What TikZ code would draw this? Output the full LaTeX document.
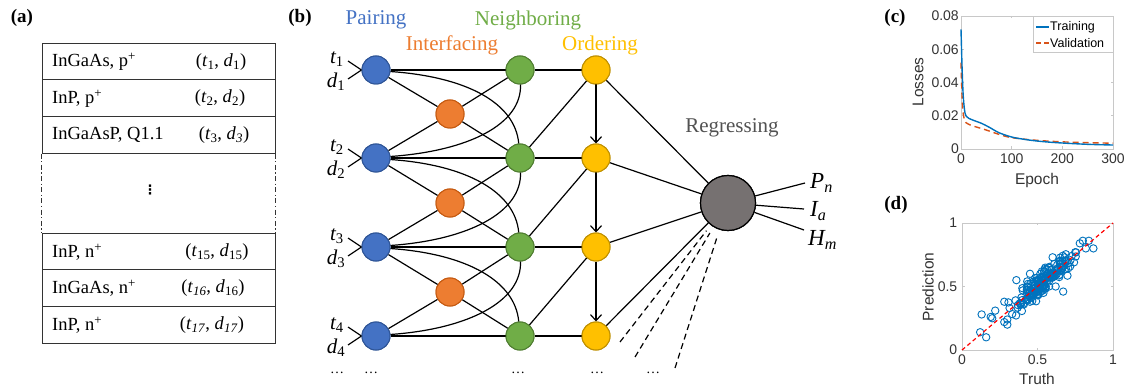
\documentclass[tikz,border=0pt]{standalone}
\usepackage{fontspec}
\setmainfont{Liberation Serif}
\newfontfamily\hv{Liberation Sans}
\newfontfamily\dv{DejaVu Sans}
\usetikzlibrary{arrows.meta}
\definecolor{cblue}{HTML}{4472C4}
\definecolor{cblueD}{HTML}{2F5597}
\definecolor{corange}{HTML}{ED7D31}
\definecolor{corangeD}{HTML}{C55A11}
\definecolor{cgreen}{HTML}{70AD47}
\definecolor{cgreenD}{HTML}{507E32}
\definecolor{cyellow}{HTML}{FFC000}
\definecolor{cyellowD}{HTML}{BF9000}
\definecolor{cgray}{HTML}{767171}
\definecolor{mblue}{HTML}{0072BD}
\definecolor{morange}{HTML}{D95319}
\definecolor{axgray}{HTML}{C8C8C8}
\definecolor{tkgray}{HTML}{333333}
\newcommand{\iv}[2]{\textit{#1}\textsubscript{#2}}
\begin{document}
\begin{tikzpicture}[x=1pt,y=-1pt,
  panlab/.style={font=\bfseries\fontsize{19}{22}\selectfont},
  rowbox/.style={draw=black!80, line width=0.9pt, minimum width=233pt, minimum height=36.7pt, inner sep=0pt},
  tabtxt/.style={font=\fontsize{18.5}{22}\selectfont, inner sep=0pt},
  pnode/.style={circle, minimum size=28pt, inner sep=0pt, line width=1pt},
  bnode/.style={pnode, fill=cblue, draw=cblueD},
  onode/.style={pnode, fill=corange, draw=corangeD},
  gnode/.style={pnode, fill=cgreen, draw=cgreenD},
  ynode/.style={pnode, fill=cyellow, draw=cyellowD},
  grnode/.style={circle, minimum size=55pt, inner sep=0pt, fill=cgray, draw=black, line width=1.2pt},
  edge/.style={line width=1.2pt, black},
  btxt/.style={font=\fontsize{21}{24}\selectfont, inner sep=0pt},
  ivtxt/.style={font=\itshape\fontsize{21}{24}\selectfont, inner sep=0pt},
  outtxt/.style={font=\itshape\fontsize{23}{26}\selectfont, inner sep=0pt, anchor=west},
  dotsl/.style={font=\fontsize{14}{16}\selectfont, inner sep=0pt},
  tick/.style={font=\hv\fontsize{14}{16}\selectfont, text=tkgray, inner sep=0pt},
  axlab/.style={font=\hv\fontsize{15.5}{18}\selectfont, text=tkgray, inner sep=0pt},
  axbox/.style={draw=axgray, line width=0.8pt},
  mdot/.style={mblue, line width=0.9pt},
]
\useasboundingbox[fill=white] (0,0) rectangle (1126,387);

% ---------------- (a) ----------------
\node[panlab] (la) at (22,18) {(a)};
\node[rowbox] (r1) at (158.5,61.5) {};
\node[rowbox] (r2) at (158.5,98.2) {};
\node[rowbox] (r3) at (158.5,134.9) {};
\node[rowbox] (r15) at (158.5,251.5) {};
\node[rowbox] (r16) at (158.5,288.2) {};
\node[rowbox] (r17) at (158.5,324.9) {};
\draw[draw=black!80, line width=1.2pt, dash pattern=on 5pt off 2.5pt on 1.2pt off 2.5pt] (r3.south west) -- (r15.north west);
\draw[draw=black!80, line width=1.2pt, dash pattern=on 5pt off 2.5pt on 1.2pt off 2.5pt] (r3.south east) -- (r15.north east);
\node[tabtxt, anchor=west] (t1) at (52,62) {InGaAs, p\textsuperscript{+}};
\node[tabtxt] (v1) at (221,62) {(\iv{t}{1}, \iv{d}{1})};
\node[tabtxt, anchor=west] (t2) at (52,98.5) {InP, p\textsuperscript{+}};
\node[tabtxt] (v2) at (220,98.5) {(\iv{t}{2}, \iv{d}{2})};
\node[tabtxt, anchor=west] (t3) at (52,135) {InGaAsP, Q1.1};
\node[tabtxt] (v3) at (224,135) {(\iv{t}{3}, \iv{d}{\textit{3}})};
\node[font=\dv\bfseries\fontsize{13}{15}\selectfont, inner sep=0pt] (vd) at (150,190) {⋮};
\node[tabtxt, anchor=west] (t15) at (52,252) {InP, n\textsuperscript{+}};
\node[tabtxt] (v15) at (217,252) {(\iv{t}{15}, \iv{d}{15})};
\node[tabtxt, anchor=west] (t16) at (52,288.5) {InGaAs, n\textsuperscript{+}};
\node[tabtxt] (v16) at (213,288.5) {(\iv{t}{\textit{16}}, \iv{d}{16})};
\node[tabtxt, anchor=west] (t17) at (52,325) {InP, n\textsuperscript{+}};
\node[tabtxt] (v17) at (212,325) {(\iv{t}{\textit{17}}, \iv{d}{\textit{17}})};

% ---------------- (b) ----------------
\node[panlab] (lb) at (300,18) {(b)};
\node[btxt, text=cblue] (hp) at (376,20) {Pairing};
\node[btxt, text=corange] (hi) at (452,45) {Interfacing};
\node[btxt, text=cgreen] (hn) at (528,20) {Neighboring};
\node[btxt, text=cyellow] (ho) at (600,45) {Ordering};
\node[btxt, text=black!68] (hr) at (732,128) {Regressing};

\foreach \i/\yy in {1/70,2/158,3/247,4/336}{
  \node[bnode] (b\i) at (376,\yy) {};
  \node[gnode] (g\i) at (520,\yy) {};
  \node[ynode] (y\i) at (596,\yy) {};
}
\foreach \i/\yy in {1/114,2/203,3/292}{
  \node[onode] (o\i) at (450,\yy) {};
}
\node[grnode] (gr) at (728,203) {};

% input labels
\foreach \i/\yy in {1/70,2/158,3/247,4/336}{
  \node[ivtxt] (tl\i) at (337,\yy-11) {t\textsubscript{\upshape\i}};
  \node[ivtxt] (dl\i) at (336,\yy+12) {d\textsubscript{\upshape\i}};
  \coordinate (tc\i) at (348,\yy-9);
  \coordinate (dc\i) at (348,\yy+9);
  \draw[edge] (tc\i) -- (b\i.west);
  \draw[edge] (dc\i) -- (b\i.west);
}

\foreach \i in {1,2,3,4}{
  \draw[edge] (b\i) -- (g\i);
  \draw[edge] (g\i) -- (y\i);
  \draw[edge] (y\i) -- (gr);
}
\foreach \i/\j in {1/2,2/3,3/4}{
  \draw[edge] (b\i) -- (o\i);
  \draw[edge] (b\j) -- (o\i);
  \draw[edge] (o\i) -- (g\i);
  \draw[edge] (o\i) -- (g\j);
  \draw[edge] (b\i.-6) .. controls +(-4:78pt) and +(95:40pt) .. (g\j.95);
  \draw[edge] (b\j.6) .. controls +(4:78pt) and +(-88:40pt) .. (g\i.-88);
  \draw[edge] (g\j) -- (y\i);
  \draw[edge, -{Straight Barb[length=6pt,width=11pt]}] (y\i) -- (y\j);
}
% redraw nodes on top
\foreach \i/\yy in {1/70,2/158,3/247,4/336}{
  \node[bnode] at (376,\yy) {};
  \node[gnode] at (520,\yy) {};
  \node[ynode] at (596,\yy) {};
}
\foreach \i/\yy in {1/114,2/203,3/292}{
  \node[onode] at (450,\yy) {};
}
\node[grnode] at (728,203) {};

% dashed lines
\coordinate (dd1) at (620,342);
\coordinate (dd2) at (635,357);
\coordinate (dd3) at (675,368);
\foreach \k in {1,2,3}{
  \draw[edge, dash pattern=on 6pt off 4pt, shorten >=7pt] (dd\k) -- (gr);
}
% outputs
\coordinate (op) at (805,183);
\coordinate (oi) at (804,209);
\coordinate (oh) at (804,230);
\draw[edge] (gr) -- (op);
\draw[edge] (gr) -- (oi);
\draw[edge] (gr) -- (oh);
\node[outtxt] (pn) at (810,183) {P\textsubscript{n}};
\node[outtxt] (ia) at (810,211) {I\textsubscript{a}};
\node[outtxt] (hm) at (808,240) {H\textsubscript{m}};

% dots
\node[dotsl] (e1) at (337,373) {\dots};
\node[dotsl] (e2) at (371,373) {\dots};
\node[dotsl] (e3) at (518,373) {\dots};
\node[dotsl] (e4) at (597,373) {\dots};
\node[dotsl] (e5) at (653,373) {\dots};

% ---------------- (c) ----------------
\node[panlab] (lc) at (895,18) {(c)};
\begin{scope}[shift={(961,149)}, x=0.5067pt, y=1662.5pt]
  \draw[axbox] (0,0) rectangle (300,0.08);
  \foreach \t in {100,200}{
    \draw[axbox] (\t,0) -- ++(0,2.5pt);
    \draw[axbox] (\t,0.08) -- ++(0,-2.5pt);
  }
  \foreach \v in {0.02,0.04,0.06}{
    \draw[axbox] (0,\v) -- ++(2.5pt,0);
    \draw[axbox] (300,\v) -- ++(-2.5pt,0);
  }
  \foreach \t in {0,100,200,300}{
    \node[tick, anchor=north] at (\t,-0.0025) {\t};
  }
  \node[tick, anchor=east] at (-4,0) {0};
  \foreach \v in {0.02,0.04,0.06,0.08}{
    \node[tick, anchor=east] at (-4,\v) {\v};
  }
  \draw[morange, line width=1.4pt, dash pattern=on 6pt off 4pt] plot[smooth] coordinates {(0,0.052) (2,0.032) (4,0.022) (7,0.0175) (10,0.0158) (20,0.0142) (35,0.0128) (50,0.0114) (75,0.0088) (100,0.0068) (150,0.0052) (200,0.0043) (250,0.0038) (300,0.0035)};
  \draw[mblue, line width=1.4pt] plot[smooth] coordinates {(0,0.072) (2,0.05) (4,0.034) (6,0.026) (8,0.0215) (10,0.0198) (15,0.0185) (25,0.0172) (40,0.0155) (55,0.0132) (75,0.0098) (100,0.0072) (125,0.0058) (150,0.0048) (175,0.0041) (200,0.0036) (250,0.0028) (300,0.0024)};
\end{scope}
\node[axlab, rotate=90] (ylc) at (918,82) {Losses};
\node[axlab] (xlc) at (1037,180) {Epoch};
\node[draw=axgray, fill=white, line width=0.8pt, minimum width=80pt, minimum height=36pt, inner sep=0pt] (leg) at (1073,34) {};
\coordinate (la1) at (1036,27);
\coordinate (la2) at (1049,27);
\coordinate (lb1) at (1036,43);
\coordinate (lb2) at (1049,43);
\draw[mblue, line width=1.4pt] (la1) -- (la2);
\draw[morange, line width=1.4pt, dash pattern=on 5pt off 3pt] (lb1) -- (lb2);
\node[font=\hv\fontsize{12.5}{14}\selectfont, text=black, anchor=west, inner sep=0pt] (lgt) at (1050,27) {Training};
\node[font=\hv\fontsize{12.5}{14}\selectfont, text=black, anchor=west, inner sep=0pt] (lgv) at (1050,43) {Validation};

% ---------------- (d) ----------------
\node[panlab] (ld) at (896,205) {(d)};
\begin{scope}[shift={(962,350)}, x=151pt, y=127pt]
  \draw[axbox] (0,0) rectangle (1,1);
  \draw[axbox] (0.5,0) -- ++(0,2.5pt);
  \draw[axbox] (0.5,1) -- ++(0,-2.5pt);
  \draw[axbox] (0,0.5) -- ++(2.5pt,0);
  \draw[axbox] (1,0.5) -- ++(-2.5pt,0);
  \node[tick, anchor=north] at (0,-0.035) {0};
  \node[tick, anchor=north] at (0.5,-0.035) {0.5};
  \node[tick, anchor=north] at (1,-0.035) {1};
  \node[tick, anchor=east] at (-0.03,0) {0};
  \node[tick, anchor=east] at (-0.03,0.5) {0.5};
  \node[tick, anchor=east] at (-0.03,1) {1};
  \pgfmathsetseed{4242}
  \foreach \k in {1,...,180}{
    \pgfmathsetmacro\tx{0.54+0.095*(rand+rand+rand)}
    \pgfmathsetmacro\ty{\tx+0.045*(rand+rand+rand)}
    \draw[mdot] (\tx,\ty) circle[radius=3.7pt];
  }
  \foreach \px/\py in {0.13/0.28,0.12/0.14,0.16/0.1,0.2/0.25,0.22/0.31,0.19/0.26,0.28/0.22,0.3/0.2,0.3/0.24,0.87/0.8,0.84/0.86,0.82/0.8,0.36/0.55,0.67/0.46,0.6/0.73,0.41/0.36,0.28/0.38,0.78/0.84,0.8/0.86,0.75/0.77,0.45/0.6,0.5/0.43,0.62/0.5}{
    \draw[mdot] (\px,\py) circle[radius=3.7pt];
  }
  \draw[red, line width=1.2pt, dash pattern=on 4pt off 3pt] (0,0) -- (1,1);
\end{scope}
\node[axlab, rotate=90] (yld) at (928,287) {Prediction};
\node[axlab] (xld) at (1037,379) {Truth};
\end{tikzpicture}
\end{document}
